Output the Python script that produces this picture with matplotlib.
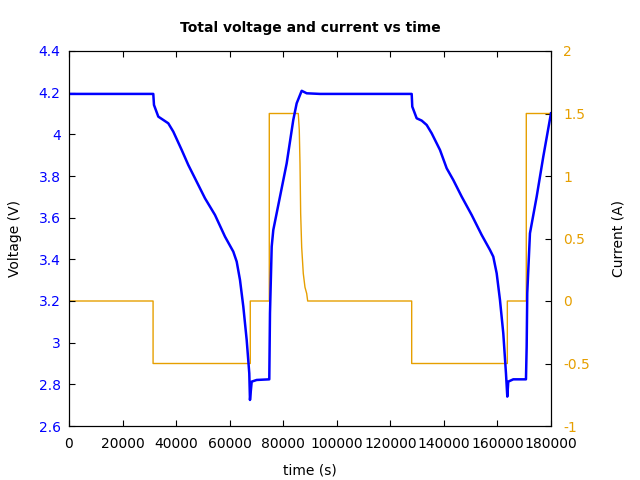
#--------------------------------------------------------
# Total voltage and current vs time (dual y axis)
#--------------------------------------------------------
import matplotlib
matplotlib.use('Agg')
import matplotlib.pyplot as plt

#-----------------------------------------
#--- Data
#-----------------------------------------
volt_t = [0, 31480, 31740, 33350, 35220, 37080, 38950, 42090, 44550, 47050,
          50790, 54520, 58260, 61360, 62630, 63860, 65100, 66360, 67330, 67590,
          68230, 70100, 74800, 75060, 75700, 76300, 78800, 81300, 83760, 85030,
          86900, 88770, 93730,
          127980, 128200, 129840, 131710, 133580, 135450, 138550, 141050, 143510,
          146650, 150380, 154120, 157220, 158450, 159720, 160950, 162190, 163190,
          163690, 164050, 165920, 170660, 170920, 171140, 172150, 174660, 177130,
          180000]
volt_v = [4.194, 4.194, 4.141, 4.085, 4.069, 4.053, 4.013, 3.925, 3.853, 3.789,
          3.693, 3.613, 3.509, 3.437, 3.389, 3.301, 3.173, 3.013, 2.853, 2.725,
          2.813, 2.821, 2.824, 3.142, 3.461, 3.541, 3.701, 3.861, 4.069, 4.149,
          4.209, 4.197, 4.194,
          4.194, 4.133, 4.077, 4.066, 4.045, 4.005, 3.925, 3.837, 3.781,
          3.701, 3.613, 3.517, 3.445, 3.413, 3.333, 3.205, 3.045, 2.853,
          2.741, 2.813, 2.824, 2.824, 2.981, 3.237, 3.525, 3.701, 3.893,
          4.101]

curr_t = [0, 31400, 31400, 67700, 67700, 74800, 74800, 85630, 86000, 86270,
          86520, 86900, 87500, 88130, 88770, 89140, 127980, 127980, 163700,
          163700, 170780, 170780, 180000]
curr_i = [0, 0, -0.5, -0.5, 0, 0, 1.5, 1.5, 1.37, 1.10,
          0.70, 0.43, 0.22, 0.11, 0.06, 0, 0, -0.5,
          -0.5, 0, 0, 1.5, 1.5]

x_ticks = [0, 20000, 40000, 60000, 80000, 100000, 120000, 140000, 160000, 180000]
v_ticks = [2.6, 2.8, 3.0, 3.2, 3.4, 3.6, 3.8, 4.0, 4.2, 4.4]
v_labels = ['2.6', '2.8', '3', '3.2', '3.4', '3.6', '3.8', '4', '4.2', '4.4']
i_ticks = [-1, -0.5, 0, 0.5, 1, 1.5, 2]
i_labels = ['-1', '-0.5', '0', '0.5', '1', '1.5', '2']

blue = '#0000ff'
orange = '#e69f00'

#-----------------------------------------
#--- Plot
#-----------------------------------------
plt.rcParams['axes.unicode_minus'] = False
fig = plt.figure(figsize=(6.4, 4.8), dpi=100)
ax = fig.add_axes([0.1078, 0.1125, 0.7531, 0.78125])
ax2 = ax.twinx()

ax2.plot(curr_t, curr_i, color=orange, lw=1)
ax.plot(volt_t, volt_v, color=blue, lw=1.8)

# voltage line drawn above the current line
ax.set_zorder(ax2.get_zorder() + 1)
ax.patch.set_visible(False)

ax.set_xlim(0, 180000)
ax.set_ylim(2.6, 4.4)
ax2.set_ylim(-1, 2)

ax.set_xticks(x_ticks)
ax.set_xticklabels([str(x) for x in x_ticks])
ax.set_yticks(v_ticks)
ax.set_yticklabels(v_labels)
ax2.set_yticks(i_ticks)
ax2.set_yticklabels(i_labels)

ax.tick_params(axis='x', direction='in', top=True, length=4, pad=8, labelsize=10)
ax.tick_params(axis='y', direction='in', length=4, pad=6, labelsize=10, labelcolor=blue)
ax2.tick_params(axis='y', direction='in', length=4, pad=9, labelsize=10, labelcolor=orange)

ax.set_xlabel('time (s)', labelpad=9)
ax.set_ylabel('Voltage (V)', labelpad=12)
ax2.set_ylabel('Current (A)', labelpad=15)
ax.set_title('Total voltage and current vs time', fontweight='bold', fontsize=10, pad=14)

fig.savefig('out.png', dpi=100)
